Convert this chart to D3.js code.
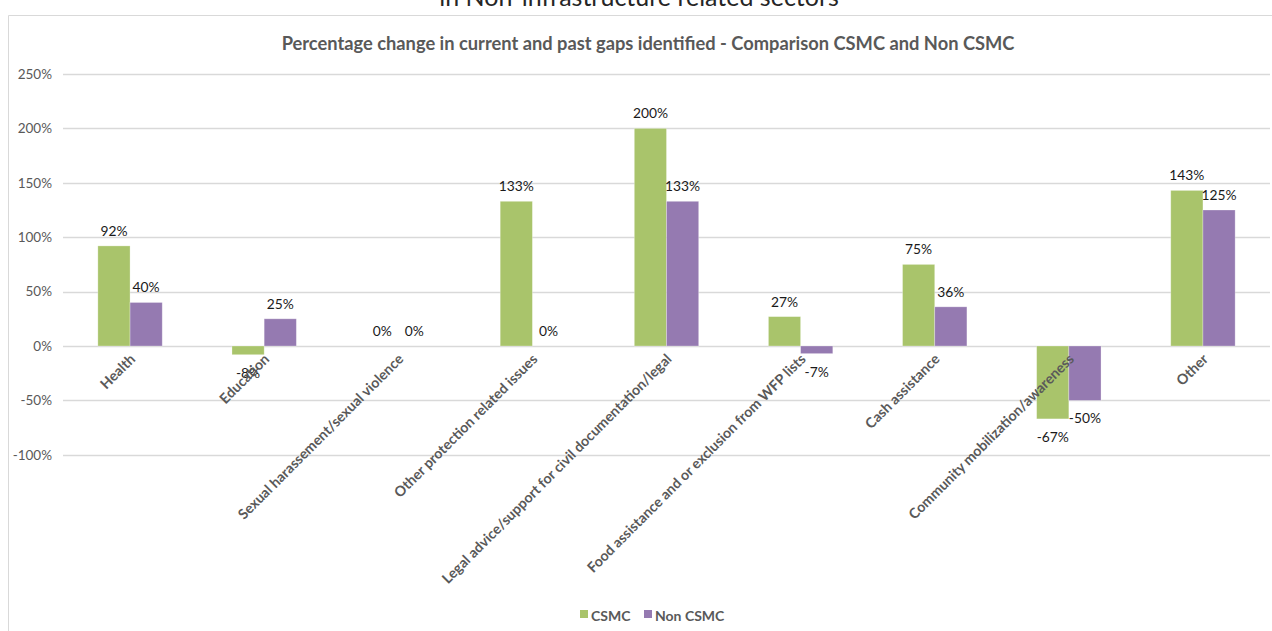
<!DOCTYPE html>
<html>
<head>
<meta charset="utf-8">
<script src="https://cdn.jsdelivr.net/npm/d3@7"></script>
<style>
  html, body { margin: 0; padding: 0; background: #fff; }
  svg { display: block; font-family: Lato, "Open Sans", sans-serif; }
</style>
</head>
<body>
<svg id="chart" width="1272" height="631"></svg>
<script>
// Sectors and percentage change per group
const categories = [
  "Health",
  "Education",
  "Sexual harassement/sexual violence",
  "Other protection related issues",
  "Legal advice/support for civil documentation/legal",
  "Food assistance and or exclusion from WFP lists",
  "Cash assistance",
  "Community mobilization/awareness",
  "Other"
];
const seriesNames = ["CSMC", "Non CSMC"];
const csmcValues    = [92, -8, 0, 133, 200, 27, 75, -67, 143];
const nonCsmcValues = [40, 25, 0, 0, 133, -7, 36, -50, 125];
const yTicks = [-100, -50, 0, 50, 100, 150, 200, 250];

const colors = { "CSMC": "#A9C46B", "Non CSMC": "#957AB1" };
const seriesValues = { "CSMC": csmcValues, "Non CSMC": nonCsmcValues };

const svg = d3.select("#chart");
const W = 1272, H = 631;

// Outer chart frame (top and left edges visible)
svg.append("line").attr("x1", 8.5).attr("x2", 8.5).attr("y1", 15.5).attr("y2", H)
  .attr("stroke", "#d9d9d9");
svg.append("line").attr("x1", 8.5).attr("x2", W).attr("y1", 15.5).attr("y2", 15.5)
  .attr("stroke", "#d9d9d9");

// Heading of the surrounding page section
svg.append("text")
  .attr("x", 639).attr("y", 6)
  .attr("text-anchor", "middle")
  .attr("font-size", 25)
  .attr("fill", "#262626")
  .text("in Non-infrastructure related sectors");

// Chart title
svg.append("text")
  .attr("x", 648).attr("y", 50)
  .attr("text-anchor", "middle")
  .attr("font-size", 18.3)
  .attr("font-weight", "bold")
  .attr("fill", "#595959")
  .text("Percentage change in current and past gaps identified - Comparison CSMC and Non CSMC");

const plot = { left: 63, right: 1270 };
const y = d3.scaleLinear().domain([-100, 250]).range([454.8, 74]);
const x0 = d3.scaleBand().domain(categories).range([plot.left, plot.right]).paddingInner(0.52).paddingOuter(0.26);
const x1 = d3.scaleBand().domain(seriesNames).range([0, x0.bandwidth()]);

// Gridlines
svg.append("g").selectAll("line").data(yTicks).join("line")
  .attr("x1", plot.left).attr("x2", plot.right)
  .attr("y1", d => Math.round(y(d)) + 0.5).attr("y2", d => Math.round(y(d)) + 0.5)
  .attr("stroke", "#d9d9d9").attr("stroke-width", 1.3);

// Y axis labels
const yAxis = d3.axisLeft(y).tickValues(yTicks).tickFormat(d => d + "%").tickSize(0).tickPadding(0);
const yg = svg.append("g").attr("transform", "translate(52,0)").call(yAxis);
yg.select(".domain").remove();
yg.selectAll("text").attr("font-size", 13.5).attr("fill", "#595959").attr("font-family", "Lato, sans-serif");

// Bars
const groups = svg.append("g").selectAll("g").data(categories).join("g")
  .attr("transform", d => `translate(${x0(d)},0)`);

const barData = (c, i) => seriesNames.map(s => ({ series: s, value: seriesValues[s][i], cat: c }));

groups.selectAll("rect").data((c, i) => barData(c, i)).join("rect")
  .attr("x", d => x1(d.series))
  .attr("width", x1.bandwidth())
  .attr("y", d => y(Math.max(0, d.value)))
  .attr("height", d => Math.abs(y(d.value) - y(0)))
  .attr("fill", d => colors[d.series])
  .attr("stroke", "#ffffff").attr("stroke-opacity", 0.35).attr("stroke-width", 0.8);

// Value labels
groups.selectAll("text.val").data((c, i) => barData(c, i)).join("text")
  .attr("class", "val")
  .attr("x", d => x1(d.series) + x1.bandwidth() / 2)
  .attr("y", d => d.value >= 0 ? y(d.value) - 10 : y(d.value) + 23)
  .attr("text-anchor", "middle")
  .attr("font-size", 13.8)
  .attr("fill", "#1a1a1a")
  .text(d => d.value + "%");

// Category labels, rotated
svg.append("g").selectAll("text").data(categories).join("text")
  .attr("transform", d => `translate(${x0(d) + x0.bandwidth() / 2 + 6},${360}) rotate(-45)`)
  .attr("text-anchor", "end")
  .attr("font-size", 14.2)
  .attr("font-weight", "bold")
  .attr("fill", "#595959")
  .text(d => d);

// Legend
const legend = svg.append("g");
const legendItems = [{ name: "CSMC", x: 580 }, { name: "Non CSMC", x: 644 }];
legend.selectAll("rect").data(legendItems).join("rect")
  .attr("x", d => d.x).attr("y", 610).attr("width", 8).attr("height", 8)
  .attr("fill", d => colors[d.name]);
legend.selectAll("text").data(legendItems).join("text")
  .attr("x", d => d.x + 11).attr("y", 621)
  .attr("font-size", 14).attr("font-weight", "bold").attr("fill", "#595959")
  .text(d => d.name);
</script>
</body>
</html>
